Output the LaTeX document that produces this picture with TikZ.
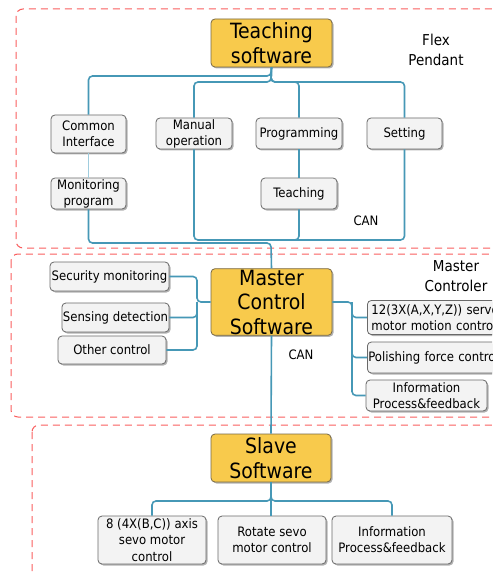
\documentclass[tikz,border=0pt]{standalone}
\usepackage{fontspec}
\setmainfont{DejaVu Sans Condensed}
\usetikzlibrary{shadows}
\definecolor{conn}{RGB}{70,152,182}
\definecolor{connlt}{RGB}{160,205,222}
\definecolor{framec}{RGB}{250,95,95}
\definecolor{gold}{RGB}{248,202,76}
\definecolor{goldb}{RGB}{120,105,70}
\definecolor{boxf}{RGB}{243,243,243}
\definecolor{boxb}{RGB}{105,105,105}
\tikzset{
  frm/.style={draw=framec, line width=1pt, dash pattern=on 7pt off 5pt, rounded corners=7pt},
  sbox/.style={draw=boxb, fill=boxf, line width=0.8pt, rounded corners=4pt, align=center,
    inner sep=1pt, font=\fontsize{13}{16}\selectfont,
    drop shadow={shadow xshift=1.5pt, shadow yshift=-1.5pt, opacity=0.3, fill=black}},
  gbox/.style={draw=goldb, fill=gold, line width=0.8pt, rounded corners=4pt, align=center,
    inner sep=1pt, font=\fontsize{21}{24.5}\selectfont,
    drop shadow={shadow xshift=1.5pt, shadow yshift=-1.5pt, opacity=0.3, fill=black}},
  cn/.style={draw=conn, line width=1.6pt, rounded corners=4pt},
  lbl/.style={align=center, font=\fontsize{15}{19.5}\selectfont},
  canl/.style={font=\fontsize{13}{15}\selectfont}
}
\begin{document}
\begin{tikzpicture}[x=1pt,y=-1pt]
\clip (0,0) rectangle (492,572);
\fill[white] (0,0) rectangle (492,572);
% frames
\draw[frm] (16,9) rectangle (515,248);
\draw[frm] (11,254) rectangle (515,417);
\draw[frm] (32,425) rectangle (515,600);

% Flex pendant nodes
\node[gbox, minimum width=121pt, minimum height=48pt] (TS) at (271.5,43) {Teaching\\software};
\node[sbox, minimum width=75pt, minimum height=38pt] (CI) at (88.5,134) {Common\\Interface};
\node[sbox, minimum width=75pt, minimum height=31pt] (MP) at (88.5,193.5) {Monitoring\\program};
\node[sbox, minimum width=76pt, minimum height=31pt] (MO) at (194,133.5) {Manual\\operation};
\node[sbox, minimum width=86pt, minimum height=31pt] (PR) at (299,133.5) {Programming};
\node[sbox, minimum width=75pt, minimum height=31pt] (SE) at (404.5,133.5) {Setting};
\node[sbox, minimum width=76pt, minimum height=31pt] (TE) at (299,193.5) {Teaching};
\node[lbl] (FP) at (436,50) {Flex\\Pendant};
\node[canl] (CAN1) at (366,221) {CAN};

% Master controller nodes
\node[gbox, minimum width=121pt, minimum height=62pt] (MCS) at (271.5,302) {Master\\Control\\Software};
\node[sbox, minimum width=119pt, minimum height=29pt] (SM) at (109.5,276.5) {Security monitoring};
\node[sbox, minimum width=107pt, minimum height=29pt] (SD) at (115.5,317.5) {Sensing detection};
\node[sbox, minimum width=108pt, minimum height=28pt] (OC) at (112,350) {Other control};
\node[sbox, anchor=west, text width=140pt, minimum height=29pt, align=left, inner sep=4pt] (SV) at (367,317.5) {12(3X(A,X,Y,Z)) servo\\motor motion control};
\node[sbox, anchor=west, text width=140pt, minimum height=31pt, align=left, inner sep=1pt] (PF) at (367,357.5) {Polishing force control};
\node[sbox, minimum width=121pt, minimum height=31pt] (IM) at (426.5,395.5) {Information\\Process\&feedback};
\node[lbl] (MC) at (456,276) {Master\\Controler};
\node[canl] (CAN2) at (301,355) {CAN};

% Slave nodes
\node[gbox, minimum width=120pt, minimum height=48pt] (SS) at (271,458) {Slave\\Software};
\node[sbox, minimum width=108pt, minimum height=48pt, font=\fontsize{13}{16.5}\selectfont] (B1) at (152,540) {8 (4X(B,C)) axis\\sevo motor\\control};
\node[sbox, minimum width=108pt, minimum height=48pt] (B2) at (272,540) {Rotate sevo\\motor control};
\node[sbox, minimum width=120pt, minimum height=48pt] (B3) at (392,540) {Information\\Process\&feedback};

% coordinates
\coordinate (tl) at (271,76);
\coordinate (tr) at (271,82);
\coordinate (bl) at (271,243);
\coordinate (br) at (271,240);
\coordinate (ml) at (197,302);
\coordinate (mr) at (352,302);
\coordinate (sb) at (271,501);

% top connectors
\draw[cn] (TS.south) -- (tl) -| (CI.north);
\draw[cn] (TS.south) -- (tr) -| (MO.north);
\draw[cn] (TS.south) -- (tr) -| (PR.north);
\draw[cn] (TS.south) -- (tr) -| (SE.north);
\draw[draw=connlt, line width=1.6pt] (CI.south) -- (MP.north);
\draw[cn] (MP.south) |- (bl) -- (MCS.north);
\draw[cn] (MO.south) |- (br);
\draw[cn] (PR.south) -- (TE.north);
\draw[cn] (TE.south) |- (br);
\draw[cn] (SE.south) |- (br);

% master connectors
\draw[cn] (MCS.west) -- (ml) |- (SM.east);
\draw[cn] (ml) |- (SD.east);
\draw[cn] (ml) |- (OC.east);
\draw[cn] (MCS.east) -- (mr) |- (SV.west);
\draw[cn] (mr) |- (PF.west);
\draw[cn] (mr) |- (IM.west);
\draw[cn] (MCS.south) -- (SS.north);

% slave connectors
\draw[cn] (SS.south) -- (sb) -| (B1.north);
\draw[cn] (SS.south) -- (sb) -| (B3.north);
\draw[cn] (SS.south) -- (SS.south |- B2.north);
\end{tikzpicture}
\end{document}
